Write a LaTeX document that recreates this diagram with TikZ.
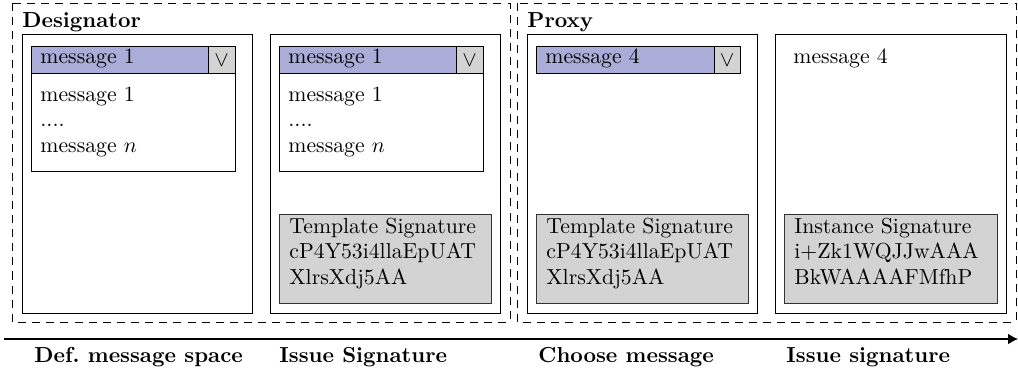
\documentclass[tikz,border=0pt]{standalone}
\usetikzlibrary{arrows.meta}
\definecolor{hdr}{RGB}{170,173,216}
\definecolor{btn}{RGB}{211,211,211}
\definecolor{sig}{RGB}{211,211,211}
\tikzset{
  frame/.style={draw, dash pattern=on 3.7pt off 2.8pt, line width=0.4pt},
  panel/.style={draw, line width=0.4pt},
  hdrbox/.style={draw, fill=hdr, line width=0.4pt},
  btnbox/.style={draw, fill=btn, line width=0.4pt},
  listbox/.style={draw, fill=white, line width=0.4pt},
  sigbox/.style={draw=black!80, fill=sig, line width=0.4pt},
  txt/.style={anchor=base west, inner sep=0pt, font=\normalsize},
  ttl/.style={anchor=base west, inner sep=0pt, font=\bfseries},
  veetxt/.style={inner sep=0pt},
}
\begin{document}
\begin{tikzpicture}[x=0.46pt,y=-0.46pt]
\useasboundingbox (0,0) rectangle (1018,376);
% frames
\draw[frame] (12,3) rectangle (510,322);
\draw[frame] (517,3) rectangle (1016,322);
\node[ttl] (tDes) at (22,27) {Designator};
\node[ttl] (tProx) at (527,27) {Proxy};
% panels
\draw[panel] (22,34) rectangle (252,313);
\draw[panel] (270,34) rectangle (500,313);
\draw[panel] (527,34) rectangle (757,313);
\draw[panel] (775,34) rectangle (1006,313);
% panel 1 dropdown
\draw[listbox] (31,73) rectangle (235,171);
\draw[hdrbox] (31,46) rectangle (208,73);
\draw[btnbox] (208,46) rectangle (235,73);
\node[veetxt] (v1) at (221.5,60) {$\vee$};
\node[txt] (h1) at (40,63) {message 1};
\node[txt] (a1) at (40,101) {message 1};
\node[txt] (b1) at (40,126) {....};
\node[txt] (c1) at (40,152) {message $n$};
% panel 2 dropdown
\draw[listbox] (279,73) rectangle (483,171);
\draw[hdrbox] (279,46) rectangle (456,73);
\draw[btnbox] (456,46) rectangle (483,73);
\node[veetxt] (v2) at (469.5,60) {$\vee$};
\node[txt] (h2) at (288,63) {message 1};
\node[txt] (a2) at (288,101) {message 1};
\node[txt] (b2) at (288,126) {....};
\node[txt] (c2) at (288,152) {message $n$};
% panel 2 signature
\draw[sigbox] (279,214) rectangle (491,303);
\node[txt] (s2a) at (289,233) {Template Signature};
\node[txt] (s2b) at (289,258) {cP4Y53i4llaEpUAT};
\node[txt] (s2c) at (289,284) {XlrsXdj5AA};
% panel 3 dropdown
\draw[hdrbox] (536,46) rectangle (714,73);
\draw[btnbox] (714,46) rectangle (740,73);
\node[veetxt] (v3) at (727,60) {$\vee$};
\node[txt] (h3) at (545,63) {message 4};
% panel 3 signature
\draw[sigbox] (536,214) rectangle (748,303);
\node[txt] (s3a) at (546,233) {Template Signature};
\node[txt] (s3b) at (546,258) {cP4Y53i4llaEpUAT};
\node[txt] (s3c) at (546,284) {XlrsXdj5AA};
% panel 4
\node[txt] (h4) at (793,63) {message 4};
\draw[sigbox] (784,214) rectangle (997,303);
\node[txt] (s4a) at (794,233) {Instance Signature};
\node[txt] (s4b) at (794,258) {i+Zk1WQJJwAAA};
\node[txt] (s4c) at (794,284) {BkWAAAAFMfhP};
% timeline
\coordinate (as) at (4,339);
\coordinate (ae) at (1018,339);
\draw[-{Latex[length=4.5pt,width=4.8pt]}, line width=0.5pt] (as) -- (ae);
\node[ttl] (l1) at (34,362) {Def.\ message space};
\node[ttl] (l2) at (279,362) {Issue Signature};
\node[ttl] (l3) at (538,362) {Choose message};
\node[ttl] (l4) at (786,362) {Issue signature};
\end{tikzpicture}
\end{document}
